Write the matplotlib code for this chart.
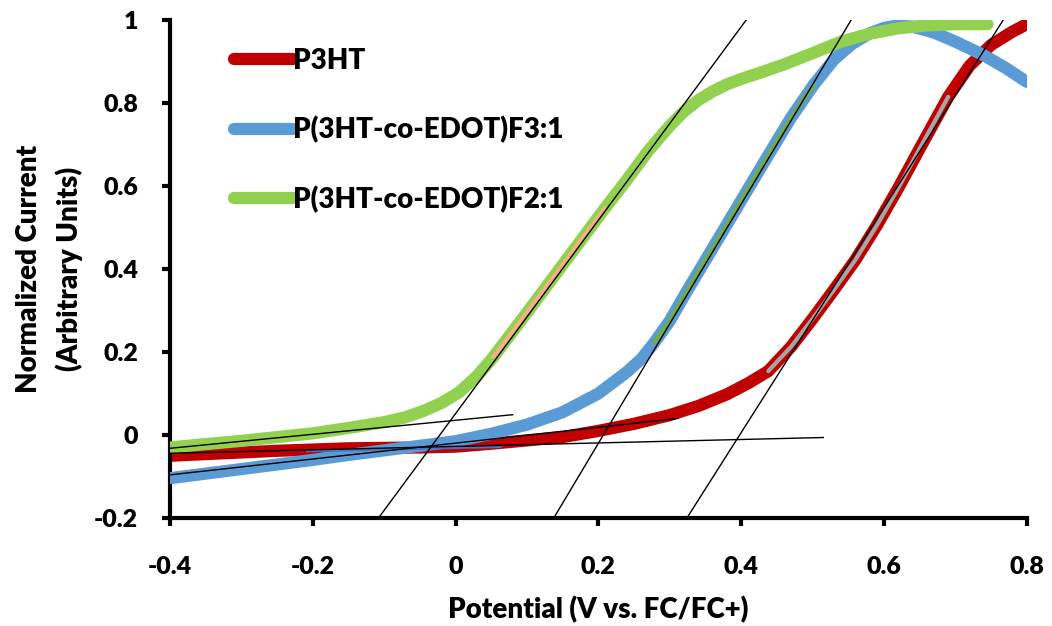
import numpy as np
import matplotlib as mpl
import matplotlib.pyplot as plt

mpl.use("Agg")
plt.rcParams['font.family'] = ['Lato', 'DejaVu Sans']
plt.rcParams['font.weight'] = 800

# --- data ---
p3ht_x = [-0.40, -0.35, -0.30, -0.25, -0.20, -0.15, -0.10, -0.05, 0.00, 0.05,
          0.10, 0.15, 0.20, 0.25, 0.30, 0.34, 0.38, 0.41, 0.438, 0.47, 0.50,
          0.53, 0.56, 0.59, 0.62, 0.65, 0.69, 0.72, 0.75, 0.78, 0.80]
p3ht_y = [-0.050, -0.046, -0.042, -0.038, -0.035, -0.032, -0.031, -0.030,
          -0.028, -0.021, -0.013, -0.005, 0.010, 0.027, 0.048, 0.070, 0.098,
          0.125, 0.154, 0.213, 0.280, 0.350, 0.422, 0.505, 0.595, 0.690,
          0.815, 0.890, 0.940, 0.972, 0.990]

f31_x = [-0.40, -0.35, -0.30, -0.25, -0.20, -0.15, -0.10, -0.05, 0.00, 0.05,
         0.10, 0.15, 0.20, 0.24, 0.26, 0.278, 0.30, 0.32, 0.36, 0.40, 0.44,
         0.47, 0.502, 0.53, 0.555, 0.58, 0.60, 0.62, 0.64, 0.67, 0.70, 0.74,
         0.77, 0.80]
f31_y = [-0.104, -0.093, -0.082, -0.071, -0.060, -0.048, -0.037, -0.026,
         -0.015, 0.003, 0.025, 0.055, 0.100, 0.152, 0.183, 0.222, 0.275,
         0.335, 0.450, 0.565, 0.680, 0.765, 0.845, 0.905, 0.942, 0.968,
         0.981, 0.987, 0.984, 0.970, 0.948, 0.915, 0.885, 0.851]

f21_x = [-0.40, -0.35, -0.30, -0.25, -0.20, -0.15, -0.10, -0.07, -0.045, -0.02,
         0.005, 0.03, 0.053, 0.10, 0.15, 0.209, 0.24, 0.27, 0.30, 0.32, 0.34,
         0.36, 0.38, 0.40, 0.43, 0.46, 0.50, 0.54, 0.58, 0.62, 0.66, 0.70,
         0.745]
f21_y = [-0.030, -0.022, -0.014, -0.005, 0.004, 0.017, 0.031, 0.043, 0.058,
         0.077, 0.103, 0.142, 0.188, 0.295, 0.410, 0.546, 0.615, 0.685,
         0.745, 0.780, 0.807, 0.828, 0.845, 0.858, 0.875, 0.893, 0.920,
         0.948, 0.967, 0.980, 0.987, 0.990, 0.990]

# onset construction lines (end points)
tangent_x = [[-0.108, 0.407], [0.1375, 0.554], [0.324, 0.767]]
tangent_y = [[-0.200, 1.000], [-0.200, 1.000], [-0.200, 1.000]]
base_x = [[-0.40, 0.080], [-0.40, 0.3116], [-0.40, 0.515]]
base_y = [[-0.032, 0.049], [-0.096, 0.040], [-0.044, -0.006]]

# x-ranges of the fitted parts, highlighted on each curve
fit_ranges = [(0.438, 0.690), (0.278, 0.502), (0.053, 0.209)]
fit_colors = ['#A5A5A5', '#70AD47', '#F4B183']

# short dark-blue piece of the F3:1 baseline fit, seen on the P3HT curve
blue_fit_x = [-0.208, 0.063]
blue_fit_y = [-0.039, -0.029]

labels = ['P3HT', 'P(3HT-co-EDOT)F3:1', 'P(3HT-co-EDOT)F2:1']
colors = ['#C00000', '#5B9BD5', '#92D050']

xticks = [-0.4, -0.2, 0, 0.2, 0.4, 0.6, 0.8]
xtick_labels = ['-0.4', '-0.2', '0', '0.2', '0.4', '0.6', '0.8']
yticks = [-0.2, 0, 0.2, 0.4, 0.6, 0.8, 1]
ytick_labels = ['-0.2', '0', '0.2', '0.4', '0.6', '0.8', '1']

fig = plt.figure(figsize=(10.52, 6.26), dpi=100)
ax = fig.add_axes([0.1616, 0.1725, 0.8144, 0.7955])

series = [(p3ht_x, p3ht_y), (f31_x, f31_y), (f21_x, f21_y)]
for i in range(len(series)):
    x = np.array(series[i][0])
    y = np.array(series[i][1])
    ax.plot(x, y, color=colors[i], lw=8.8, solid_capstyle='round',
            solid_joinstyle='round', label=labels[i], zorder=2 + i)
    lo, hi = fit_ranges[i]
    m = (x >= lo - 1e-9) & (x <= hi + 1e-9)
    ax.plot(x[m], y[m], color=fit_colors[i], lw=3.0, solid_capstyle='round',
            solid_joinstyle='round', zorder=6)

ax.plot(blue_fit_x, blue_fit_y, color='#4472C4', lw=1.5, zorder=6)

for i in range(len(tangent_x)):
    ax.plot(tangent_x[i], tangent_y[i], color='black', lw=1.0, zorder=7)
    ax.plot(base_x[i], base_y[i], color='black', lw=1.0, zorder=7)

ax.set_xlim(-0.4, 0.8)
ax.set_ylim(-0.2, 1.0)
ax.set_xticks(xticks)
ax.set_xticklabels(xtick_labels)
ax.set_yticks(yticks)
ax.set_yticklabels(ytick_labels)

for s in ['top', 'right']:
    ax.spines[s].set_visible(False)
for s in ['left', 'bottom']:
    ax.spines[s].set_linewidth(3.0)
    ax.spines[s].set_capstyle('projecting')

ax.tick_params(axis='both', direction='out', length=6, width=3.0,
               labelsize=18)
ax.tick_params(axis='x', pad=21)
ax.tick_params(axis='y', pad=17)

ax.set_xlabel('Potential (V vs. FC/FC+)', fontsize=20, fontweight=800,
              labelpad=13)
ax.set_ylabel('Normalized Current\n(Arbitrary Units)', fontsize=20,
              fontweight=800, labelpad=8, linespacing=1.6)

leg = ax.legend(loc='upper left', bbox_to_anchor=(0.075, 0.944), frameon=False,
                prop={'size': 20, 'weight': 800}, handlelength=2.1,
                handletextpad=0.0, labelspacing=1.52, borderaxespad=0,
                borderpad=0)
for h in leg.get_lines():
    h.set_linewidth(8.8)
    h.set_solid_capstyle('round')

fig.savefig('out.png', dpi=100)
